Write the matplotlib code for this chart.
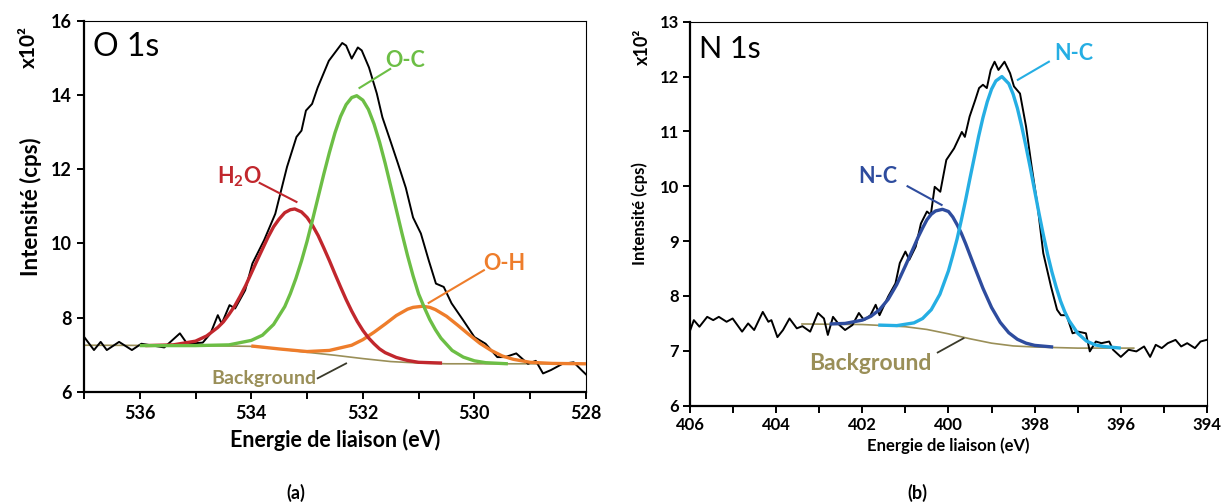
import numpy as np
import matplotlib
matplotlib.use("Agg")
import matplotlib.pyplot as plt

plt.rcParams['font.family'] = ['Lato', 'DejaVu Sans']
plt.rcParams['mathtext.fontset'] = 'custom'
plt.rcParams['mathtext.rm'] = 'Lato'
plt.rcParams['mathtext.bf'] = 'Lato:bold'

# ---------------- O 1s (a) ----------------
o_raw_e = [537.0, 536.82, 536.7, 536.59, 536.37, 536.14, 535.97, 535.56, 535.28, 535.15,
           534.87, 534.73, 534.6, 534.53, 534.39, 534.29, 534.11, 533.98, 533.77, 533.57,
           533.36, 533.19, 533.1, 533.02, 532.91, 532.81, 532.61, 532.37, 532.3, 532.2,
           532.09, 532.02, 531.89, 531.75, 531.65, 531.51, 531.37, 531.23, 531.1, 530.96,
           530.82, 530.69, 530.55, 530.41, 530.2, 530.0, 529.8, 529.59, 529.45, 529.25,
           529.04, 528.9, 528.77, 528.63, 528.42, 528.22, 528.08, 527.99]
o_raw_i = [7.49, 7.13, 7.35, 7.13, 7.35, 7.13, 7.3, 7.2, 7.58, 7.3,
           7.33, 7.58, 8.07, 7.84, 8.34, 8.25, 8.74, 9.46, 10.09, 10.8,
           12.06, 12.87, 13.04, 13.58, 13.76, 14.2, 14.92, 15.4, 15.33, 14.98,
           15.28, 15.2, 14.74, 14.04, 13.4, 12.78, 12.15, 11.5, 10.7, 10.27,
           9.55, 8.92, 8.83, 8.39, 7.93, 7.48, 7.3, 6.94, 6.94, 7.04,
           6.76, 6.84, 6.5, 6.59, 6.76, 6.8, 6.59, 6.46]

o_bg_e = [537.0, 535.0, 534.0, 533.5, 533.0, 532.5, 532.0, 531.5, 531.0, 530.5, 528.0]
o_bg_i = [7.26, 7.25, 7.23, 7.16, 7.07, 6.99, 6.90, 6.82, 6.78, 6.76, 6.76]

h2o_e = [535.9, 535.4, 535.0, 534.8, 534.6, 534.5, 534.4, 534.3, 534.2, 534.1, 534.0, 533.9,
         533.8, 533.7, 533.6, 533.5, 533.4, 533.3, 533.22, 533.1, 533.0, 532.9, 532.8, 532.7,
         532.6, 532.5, 532.4, 532.3, 532.2, 532.1, 532.0, 531.9, 531.8, 531.7, 531.6, 531.4,
         531.2, 531.0, 530.58]
h2o_i = [7.25, 7.27, 7.37, 7.51, 7.74, 7.89, 8.09, 8.31, 8.58, 8.87, 9.20, 9.53,
         9.85, 10.17, 10.45, 10.66, 10.83, 10.91, 10.93, 10.85, 10.70, 10.48, 10.21, 9.88,
         9.54, 9.18, 8.83, 8.49, 8.18, 7.90, 7.66, 7.46, 7.30, 7.16, 7.06, 6.93,
         6.85, 6.80, 6.78]

oc_e = [536.0, 535.0, 534.4, 534.0, 533.8, 533.6, 533.4, 533.3, 533.2, 533.1, 533.0, 532.9,
        532.8, 532.7, 532.6, 532.5, 532.4, 532.3, 532.2, 532.11, 532.0, 531.9, 531.8, 531.7,
        531.6, 531.5, 531.4, 531.3, 531.2, 531.1, 531.0, 530.9, 530.8, 530.7, 530.6, 530.4,
        530.2, 530.0, 529.8, 529.4]
oc_i = [7.25, 7.25, 7.27, 7.39, 7.53, 7.82, 8.30, 8.65, 9.06, 9.53, 10.06, 10.65,
        11.26, 11.87, 12.45, 12.98, 13.42, 13.74, 13.93, 13.98, 13.86, 13.61, 13.22, 12.73,
        12.16, 11.54, 10.91, 10.28, 9.68, 9.13, 8.64, 8.28, 7.95, 7.68, 7.45, 7.12,
        6.94, 6.84, 6.79, 6.76]

oh_e = [534.0, 533.5, 533.0, 532.6, 532.2, 532.0, 531.8, 531.6, 531.4, 531.2, 531.1, 530.93,
        530.8, 530.7, 530.5, 530.3, 530.1, 529.9, 529.7, 529.5, 529.3, 529.0, 528.6, 528.0]
oh_i = [7.24, 7.16, 7.09, 7.12, 7.26, 7.41, 7.61, 7.83, 8.06, 8.23, 8.28, 8.31,
        8.28, 8.22, 8.04, 7.80, 7.55, 7.31, 7.12, 6.97, 6.88, 6.80, 6.77, 6.76]

# ---------------- N 1s (b) ----------------
n_raw_e = [406.02, 405.91, 405.78, 405.6, 405.46, 405.33, 405.15, 405.01, 404.79, 404.65,
           404.51, 404.31, 404.18, 404.11, 403.97, 403.84, 403.69, 403.52, 403.39, 403.21,
           403.03, 402.89, 402.8, 402.68, 402.53, 402.4, 402.23, 402.08, 401.96, 401.81,
           401.69, 401.6, 401.4, 401.23, 401.13, 401.0, 400.91, 400.76, 400.64, 400.5,
           400.41, 400.32, 400.19, 400.05, 399.87, 399.78, 399.69, 399.62, 399.51, 399.38,
           399.29, 399.2, 399.11, 399.02, 398.93, 398.84, 398.7, 398.57, 398.48, 398.34,
           398.2, 398.07, 397.93, 397.8, 397.62, 397.48, 397.39, 397.26, 397.12, 396.99,
           396.81, 396.72, 396.58, 396.45, 396.27, 396.18, 396.0, 395.82, 395.64, 395.46,
           395.32, 395.19, 395.05, 394.91, 394.73, 394.6, 394.46, 394.28, 394.15, 394.01]
n_raw_i = [7.32, 7.56, 7.44, 7.62, 7.56, 7.62, 7.53, 7.59, 7.35, 7.5,
           7.38, 7.71, 7.53, 7.56, 7.25, 7.38, 7.59, 7.41, 7.45, 7.35,
           7.69, 7.59, 7.29, 7.62, 7.47, 7.38, 7.47, 7.69, 7.56, 7.65,
           7.84, 7.65, 7.99, 8.23, 8.6, 8.81, 8.66, 8.9, 9.32, 9.54,
           9.48, 9.99, 9.9, 10.48, 10.69, 10.84, 10.99, 10.9, 11.27, 11.57,
           11.79, 11.85, 11.79, 12.12, 12.27, 12.12, 12.27, 12.06, 11.82, 11.69,
           11.09, 10.36, 9.63, 8.78, 8.17, 7.75, 7.65, 7.65, 7.32, 7.35,
           7.32, 6.99, 7.17, 7.14, 7.17, 7.02, 6.89, 7.02, 6.99, 7.08,
           6.89, 7.11, 7.05, 7.14, 7.2, 7.08, 7.14, 7.05, 7.17, 7.2]

n_bg_e = [403.4, 402.0, 401.0, 400.5, 400.0, 399.5, 399.0, 398.5, 398.0, 397.0, 395.7]
n_bg_i = [7.49, 7.48, 7.44, 7.39, 7.31, 7.22, 7.14, 7.09, 7.07, 7.05, 7.05]

nc1_e = [402.76, 402.4, 402.0, 401.8, 401.6, 401.4, 401.2, 401.0, 400.8, 400.7, 400.6, 400.5,
         400.4, 400.3, 400.14, 400.0, 399.9, 399.8, 399.7, 399.6, 399.4, 399.2, 399.0, 398.8,
         398.6, 398.4, 398.2, 398.0, 397.57]
nc1_i = [7.49, 7.50, 7.56, 7.63, 7.75, 7.94, 8.21, 8.55, 8.90, 9.08, 9.24, 9.39,
         9.49, 9.55, 9.58, 9.54, 9.44, 9.30, 9.14, 8.95, 8.54, 8.14, 7.79, 7.52,
         7.33, 7.21, 7.14, 7.10, 7.07]

nc2_e = [401.63, 401.2, 400.8, 400.6, 400.4, 400.2, 400.0, 399.9, 399.8, 399.7, 399.6, 399.5,
         399.4, 399.3, 399.2, 399.1, 399.0, 398.9, 398.76, 398.6, 398.5, 398.4, 398.3, 398.2,
         398.1, 398.0, 397.9, 397.8, 397.7, 397.6, 397.5, 397.4, 397.3, 397.2, 397.0, 396.8,
         396.6, 396.4, 396.0]
nc2_i = [7.47, 7.46, 7.51, 7.59, 7.75, 8.03, 8.46, 8.74, 9.04, 9.39, 9.76, 10.15,
         10.53, 10.91, 11.25, 11.54, 11.77, 11.92, 12.00, 11.87, 11.68, 11.42, 11.09, 10.72,
         10.33, 9.92, 9.51, 9.12, 8.76, 8.44, 8.16, 7.91, 7.71, 7.55, 7.32, 7.18,
         7.11, 7.08, 7.05]

RED = '#C1272D'
GREEN = '#6CBE45'
ORANGE = '#EE7D2B'
TAN = '#9A8F58'
DBLUE = '#2E4C9E'
LBLUE = '#25AEE3'
LEADER_DARK = '#3a3a2a'

fig = plt.figure(figsize=(12.29, 5.04), dpi=100)
ax1 = fig.add_axes([0.0683, 0.2222, 0.4085, 0.7367])
ax2 = fig.add_axes([0.5614, 0.195, 0.4207, 0.762])


def style_axes(ax, tick_size, xmaj, xmin, pad):
    ax.spines['left'].set_linewidth(1.6)
    ax.spines['bottom'].set_linewidth(1.6)
    ax.spines['top'].set_linewidth(0.8)
    ax.spines['right'].set_linewidth(0.8)
    ax.set_xticks(xmaj)
    ax.set_xticks(xmin, minor=True)
    ax.tick_params(axis='both', which='both', direction='out', length=5, width=1.4,
                   labelsize=tick_size, pad=pad)
    for lab in ax.get_xticklabels() + ax.get_yticklabels():
        lab.set_fontweight('bold')


def label(ax, text, xy_text, xy_from, xy_to, color, size, line_color=None, lw=1.5):
    ax.plot([xy_from[0], xy_to[0]], [xy_from[1], xy_to[1]],
            color=line_color or color, lw=lw, zorder=7)
    ax.text(xy_text[0], xy_text[1], text, color=color, fontsize=size,
            fontweight='bold', ha='center', va='center', zorder=8)


# (a)
ax1.plot(o_bg_e, o_bg_i, color=TAN, lw=1.2, zorder=2)
ax1.plot(o_raw_e, o_raw_i, color='black', lw=1.4, zorder=3)
ax1.plot(oh_e, oh_i, color=ORANGE, lw=2.4, zorder=4, solid_capstyle='butt')
ax1.plot(h2o_e, h2o_i, color=RED, lw=2.4, zorder=5, solid_capstyle='butt')
ax1.plot(oc_e, oc_i, color=GREEN, lw=2.4, zorder=6, solid_capstyle='butt')
ax1.set_xlim(537, 528)
ax1.set_ylim(6, 16)
ax1.set_yticks([6, 8, 10, 12, 14, 16])
style_axes(ax1, 13, [536, 534, 532, 530, 528], [537, 535, 533, 531, 529], 4)
ax1.set_xlabel('Energie de liaison (eV)', fontsize=15.5, fontweight='bold', labelpad=5)
ax1.set_ylabel('Intensité (cps)', fontsize=16, fontweight='bold', labelpad=6)
ax1.text(-0.11, 0.93, 'x10²', transform=ax1.transAxes, rotation=90, fontsize=15,
         fontweight='bold', ha='center', va='center')
ax1.text(536.84, 15.28, 'O 1s', fontsize=23, ha='left', va='center')

label(ax1, 'O-C', (531.24, 14.94), (532.06, 14.19), (531.51, 14.70), GREEN, 15.5)
label(ax1, r'H$_\mathbf{2}$O', (534.22, 11.79), (533.85, 11.63), (533.19, 11.12), RED, 15.5)
label(ax1, 'O-H', (529.47, 9.46), (529.83, 9.28), (530.82, 8.40), ORANGE, 15.5)
label(ax1, 'Background', (533.77, 6.37), (532.81, 6.37), (532.30, 6.77), TAN, 14,
      line_color=LEADER_DARK, lw=1.3)

# (b)
ax2.plot(n_bg_e, n_bg_i, color=TAN, lw=1.2, zorder=2)
ax2.plot(n_raw_e, n_raw_i, color='black', lw=1.4, zorder=3)
ax2.plot(nc1_e, nc1_i, color=DBLUE, lw=2.4, zorder=4, solid_capstyle='butt')
ax2.plot(nc2_e, nc2_i, color=LBLUE, lw=2.4, zorder=5, solid_capstyle='butt')
ax2.set_xlim(406, 394)
ax2.set_ylim(6, 13)
ax2.set_yticks(range(6, 14))
style_axes(ax2, 12, [406, 404, 402, 400, 398, 396, 394],
           [405, 403, 401, 399, 397, 395], 3)
ax2.set_xlabel('Energie de liaison (eV)', fontsize=12, fontweight='bold', labelpad=3)
ax2.set_ylabel('Intensité (cps)', fontsize=12, fontweight='bold', labelpad=8)
ax2.text(-0.092, 0.935, 'x10²', transform=ax2.transAxes, rotation=90, fontsize=13,
         fontweight='bold', ha='center', va='center')
ax2.text(405.8, 12.51, 'N 1s', fontsize=22, ha='left', va='center')

label(ax2, 'N-C', (401.63, 10.17), (400.95, 10.00), (400.16, 9.66), DBLUE, 15.5)
label(ax2, 'N-C', (397.10, 12.42), (397.67, 12.27), (398.39, 11.94), LBLUE, 15.5)
label(ax2, 'Background', (401.81, 6.77), (400.25, 6.97), (399.65, 7.23), TAN, 16.5,
      line_color=LEADER_DARK, lw=1.3)

fig.text(296 / 1229, 1 - 493 / 504, '(a)', fontsize=13, fontweight='bold',
         ha='center', va='center')
fig.text(917 / 1229, 1 - 493 / 504, '(b)', fontsize=13, fontweight='bold',
         ha='center', va='center')

fig.savefig('out.png', dpi=100)
